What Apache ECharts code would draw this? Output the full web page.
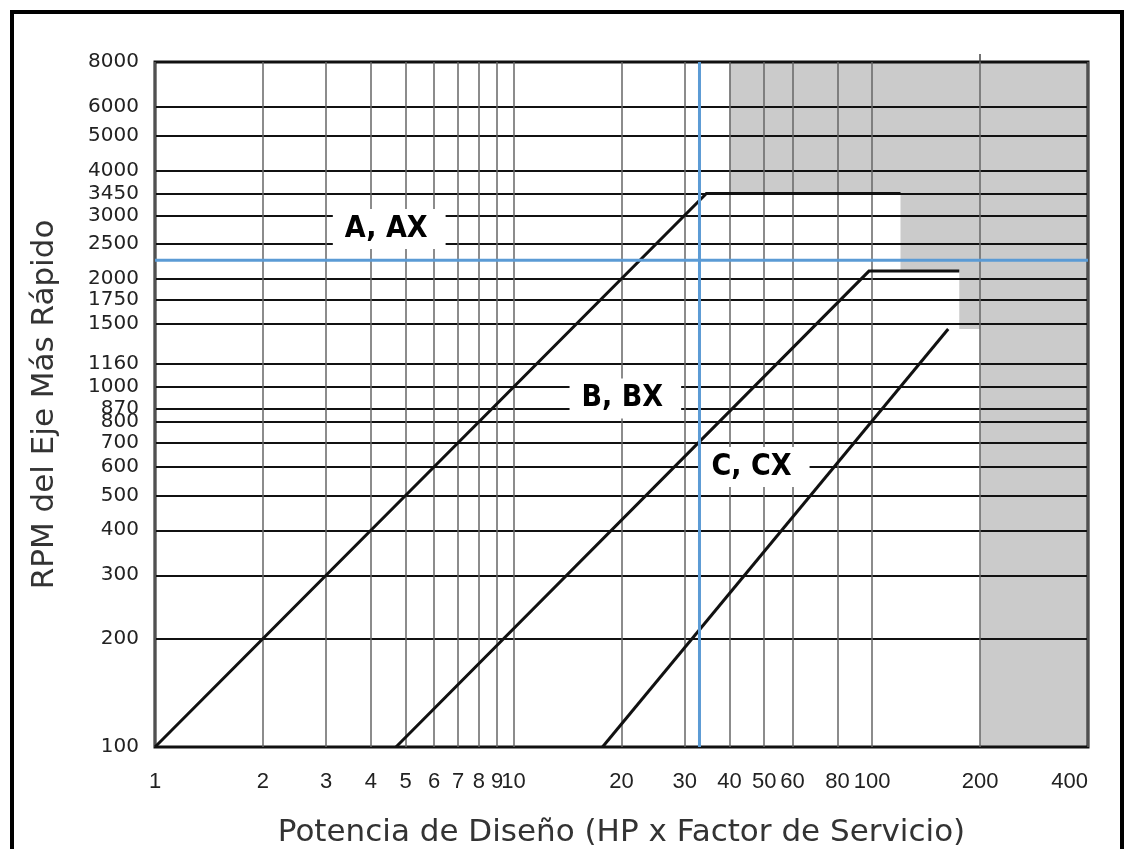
<!DOCTYPE html>
<html>
<head>
<meta charset="utf-8">
<title>Selección de sección de correa</title>
<script src="https://cdn.jsdelivr.net/npm/echarts@6/dist/echarts.min.js"></script>
<style>
  html, body { margin: 0; padding: 0; background: #fff; }
  #chart { width: 1128px; height: 849px; }
</style>
</head>
<body>
<div id="chart"></div>
<script>
// Tick values shown on each axis
const hpTicks = [1, 2, 3, 4, 5, 6, 7, 8, 9, 10, 20, 30, 40, 50, 60, 80, 100, 200, 400];
const rpmTicks = [100, 200, 300, 400, 500, 600, 700, 800, 870, 1000, 1160, 1500, 1750, 2000, 2500, 3000, 3450, 4000, 5000, 6000, 8000];
// Single tick mark above the frame
const topTicks = [200];

// Boundary lines of each belt section (HP, RPM)
const beltAHp = [1, 34.5, 120];
const beltARpm = [100, 3450, 3450];
const beltBHp = [4.7, 98, 175];
const beltBRpm = [100, 2100, 2100];
const beltCHp = [17.7, 163];
const beltCRpm = [100, 1450];

// Outline of the shaded zone outside the standard sections
const shadedHp = [40, 400, 400, 200, 200, 175, 175, 120, 120, 40];
const shadedRpm = [8000, 8000, 100, 100, 1450, 1450, 2100, 2100, 3450, 3450];

// Section names and where they sit
const sectionNames = ['A, AX', 'B, BX', 'C, CX'];
const sectionHp = [4.5, 20.5, 47];
const sectionRpm = [2750, 930, 600];

// Design point crosshair
const designHp = 33;
const designRpm = 2250;

const pairs = (xs, ys) => xs.map((x, i) => [x, ys[i]]);

const chart = echarts.init(document.getElementById('chart'), null, { renderer: 'canvas' });

const beltLine = (name, xs, ys) => ({
  name,
  type: 'line',
  data: pairs(xs, ys),
  symbol: 'none',
  z: 4,
  silent: true,
  lineStyle: { color: '#111', width: 3, join: 'miter' }
});

chart.setOption({
  animation: false,
  backgroundColor: '#fff',
  grid: {
    left: 155, right: 40, top: 62, bottom: 102,
    outerBoundsMode: 'none',
    show: true, borderColor: '#111', borderWidth: 3, backgroundColor: 'transparent'
  },
  xAxis: [
    {
      type: 'log', logBase: 10, min: 1, max: 400,
      name: 'Potencia de Diseño (HP x Factor de Servicio)',
      nameLocation: 'middle', nameGap: 70,
      nameTextStyle: { fontFamily: 'DejaVu Sans', fontSize: 31, color: '#333' },
      axisLine: { show: false },
      axisTick: { show: false, customValues: hpTicks },
      minorTick: { show: false },
      axisLabel: {
        customValues: hpTicks, margin: 24,
        fontFamily: '"Liberation Sans", Arial',
        fontSize: 22, color: '#222',
        alignMaxLabel: 'right',
        formatter: v => String(v)
      },
      splitLine: { show: true, lineStyle: { color: '#666', width: 1.5 } }
    },
    {
      type: 'log', logBase: 10, min: 1, max: 400,
      position: 'top',
      axisLine: { show: false },
      axisTick: { show: true, customValues: topTicks, length: 8, inside: false,
                  lineStyle: { color: '#444', width: 1.5 } },
      minorTick: { show: false },
      axisLabel: { show: false },
      splitLine: { show: false }
    }
  ],
  yAxis: {
    type: 'log', logBase: 10, min: 100, max: 8000,
    name: 'RPM del Eje Más Rápido',
    nameLocation: 'middle', nameGap: 95,
    nameTextStyle: { fontFamily: 'DejaVu Sans', fontSize: 31, color: '#333' },
    axisLine: { show: false },
    axisTick: { show: false, customValues: rpmTicks },
    minorTick: { show: false },
    axisLabel: {
      customValues: rpmTicks, margin: 16,
      fontFamily: 'DejaVu Sans', fontSize: 20, color: '#222',
      formatter: v => String(v)
    },
    splitLine: { show: true, lineStyle: { color: '#111', width: 2 } }
  },
  series: [
    {
      name: 'zona sombreada',
      type: 'custom',
      z: -1,
      silent: true,
      data: pairs(shadedHp, shadedRpm),
      encode: { x: 0, y: 1 },
      renderItem: (params, api) => {
        if (params.dataIndex !== 0) return null;
        const points = shadedHp.map((h, i) => api.coord([h, shadedRpm[i]]));
        return { type: 'polygon', shape: { points }, style: { fill: '#cbcbcb' } };
      }
    },
    beltLine('A, AX', beltAHp, beltARpm),
    beltLine('B, BX', beltBHp, beltBRpm),
    beltLine('C, CX', beltCHp, beltCRpm),
    {
      name: 'secciones',
      type: 'scatter',
      z: 5,
      silent: true,
      symbolSize: 1,
      itemStyle: { color: 'rgba(0,0,0,0)', opacity: 1 },
      data: sectionNames.map((n, i) => ({ name: n, value: [sectionHp[i], sectionRpm[i]] })),
      label: {
        show: true, position: 'inside', opacity: 1,
        formatter: p => p.name,
        fontFamily: '"DejaVu Sans Condensed", "Liberation Sans", Arial',
        fontWeight: 'bold', fontSize: 30, color: '#000',
        backgroundColor: '#fff', padding: [5, 18, 5, 12]
      },
      emphasis: { disabled: true }
    },
    {
      name: 'punto de diseño HP',
      type: 'line',
      data: [[designHp, rpmTicks[0]], [designHp, rpmTicks[rpmTicks.length - 1]]],
      symbol: 'none', z: 8, silent: true,
      lineStyle: { color: '#5b9bd5', width: 3 }
    },
    {
      name: 'punto de diseño RPM',
      type: 'line',
      data: [[hpTicks[0], designRpm], [hpTicks[hpTicks.length - 1], designRpm]],
      symbol: 'none', z: 8, silent: true,
      lineStyle: { color: '#5b9bd5', width: 3 }
    }
  ],
  graphic: [
    {
      type: 'rect', silent: true, z: 100,
      shape: { x: 12, y: 12, width: 1110, height: 900 },
      style: { fill: 'none', stroke: '#000', lineWidth: 4 }
    }
  ]
});
</script>
</body>
</html>
